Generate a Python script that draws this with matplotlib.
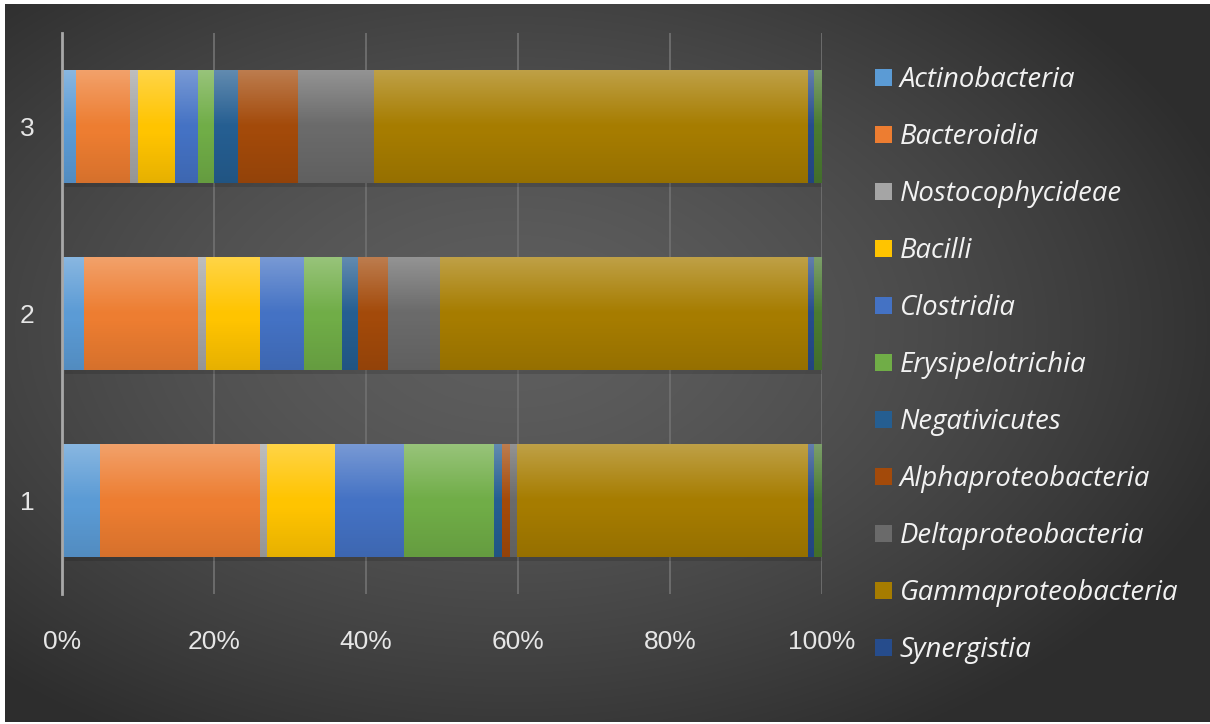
import numpy as np
import matplotlib.pyplot as plt
from matplotlib.patches import Rectangle

# Abundancia relativa (%) por muestra, clase a clase
muestras = ['1', '2', '3']
clases = ['Actinobacteria', 'Bacteroidia', 'Nostocophycideae', 'Bacilli',
          'Clostridia', 'Erysipelotrichia', 'Negativicutes',
          'Alphaproteobacteria', 'Deltaproteobacteria',
          'Gammaproteobacteria', 'Synergistia', 'Otras']

actinobacteria = [5.0, 2.9, 1.9]
bacteroidia = [21.0, 15.0, 7.1]
nostocophycideae = [1.0, 1.0, 1.0]
bacilli = [8.9, 7.1, 4.9]
clostridia = [9.1, 5.9, 3.0]
erysipelotrichia = [11.9, 5.0, 2.1]
negativicutes = [1.0, 2.0, 3.1]
alphaproteobacteria = [1.0, 4.0, 7.9]
deltaproteobacteria = [1.0, 6.9, 10.1]
gammaproteobacteria = [38.3, 48.4, 57.1]
synergistia = [0.8, 0.8, 0.8]
otras = [1.0, 1.0, 1.0]

valores = [actinobacteria, bacteroidia, nostocophycideae, bacilli, clostridia,
           erysipelotrichia, negativicutes, alphaproteobacteria,
           deltaproteobacteria, gammaproteobacteria, synergistia, otras]

colores = ['#5b9bd5', '#ed7d31', '#a5a5a5', '#ffc400', '#4472c4', '#70ad47',
           '#255e91', '#a34a0a', '#6a6a6a', '#a67c00', '#264c8c', '#4a7a30']

W, H = 1210, 724
fig = plt.figure(figsize=(W / 100, H / 100), dpi=100, facecolor='white')

# Fondo oscuro con degradado radial
bg = fig.add_axes([5 / W, 2 / H, 1 - 5 / W, 1 - 6 / H])
bg.set_axis_off()
yy, xx = np.mgrid[0:200, 0:300]
cx, cy = 0.42 * 300, 0.45 * 200
r = np.sqrt(((xx - cx) / 300) ** 2 + ((yy - cy) / 200) ** 2 * 0.9)
r = np.clip(r / 0.62, 0, 1)
gris = 0.37 - 0.19 * r ** 1.5
fondo = np.dstack([gris, gris, gris])
bg.imshow(fondo, aspect='auto', extent=(0, 1, 0, 1), interpolation='bicubic')
bg.set_xlim(0, 1)
bg.set_ylim(0, 1)

ax = fig.add_axes([62 / W, (H - 594) / H, 760 / W, 561 / H])
ax.patch.set_alpha(0)

datos = np.array(valores, dtype=float)
datos = datos / datos.sum(axis=0) * 100
pos = np.arange(1, len(muestras) + 1)
alto = 0.6

izq = np.zeros(len(muestras))
barras = []
for fila, nombre, color in zip(datos, clases, colores):
    b = ax.barh(pos, fila, left=izq, height=alto, color=color,
                label=nombre, zorder=3, linewidth=0)
    barras.append(b)
    izq += fila

# Brillo superior y ligera sombra inferior sobre cada barra (fila 0 = arriba)
n = 100
t = np.linspace(0, 1, n)[:, None]
blanco = np.clip(0.28 * (0.5 - t) / 0.5, 0, None)
negro = np.clip(0.10 * (t - 0.55) / 0.45, 0, None)
brillo = np.zeros((n, 2, 4))
brillo[..., :3] = np.where(blanco > 0, 1.0, 0.0)[..., None]
brillo[..., 3] = (blanco + negro).repeat(2, axis=1)
for p in pos:
    ax.imshow(brillo, aspect='auto', origin='upper',
              extent=(0, 100, p - alto / 2, p + alto / 2),
              zorder=4, interpolation='bilinear')
    ax.add_patch(Rectangle((0.4, p - alto / 2 - 0.025), 99.6, 0.025,
                           color='black', alpha=0.12, zorder=2, lw=0))

ax.set_xlim(0, 100)
ax.set_ylim(0.5, 3.5)
ax.set_xticks(np.arange(0, 101, 20))
ax.set_xticklabels([f'{v}%' for v in range(0, 101, 20)])
ax.set_yticks(pos)
ax.set_yticklabels(muestras)
ax.grid(axis='x', color='#6f6f6f', lw=1.3, zorder=1)
for s in ['top', 'right', 'bottom']:
    ax.spines[s].set_visible(False)
ax.spines['left'].set_color('#a8a8a8')
ax.spines['left'].set_linewidth(2)
ax.spines['left'].set_zorder(5)
ax.tick_params(length=0, colors='#e6e6e6', labelsize=19)
ax.tick_params(axis='x', pad=26)
ax.tick_params(axis='y', pad=20)
for lab in ax.get_xticklabels() + ax.get_yticklabels():
    lab.set_family('Liberation Sans')

leg = ax.legend(handles=barras[:11], loc='upper left',
                bbox_to_anchor=(875 / W, 1 - 66 / H),
                bbox_transform=fig.transFigure, frameon=False,
                prop={'family': 'Open Sans', 'style': 'italic', 'size': 19.8},
                handlelength=0.6, handleheight=0.6, handletextpad=0.3,
                labelspacing=1.055, borderaxespad=0, borderpad=0)
for txt in leg.get_texts():
    txt.set_color('#f2f2f2')

fig.savefig('out.png', dpi=100, facecolor=fig.get_facecolor())
